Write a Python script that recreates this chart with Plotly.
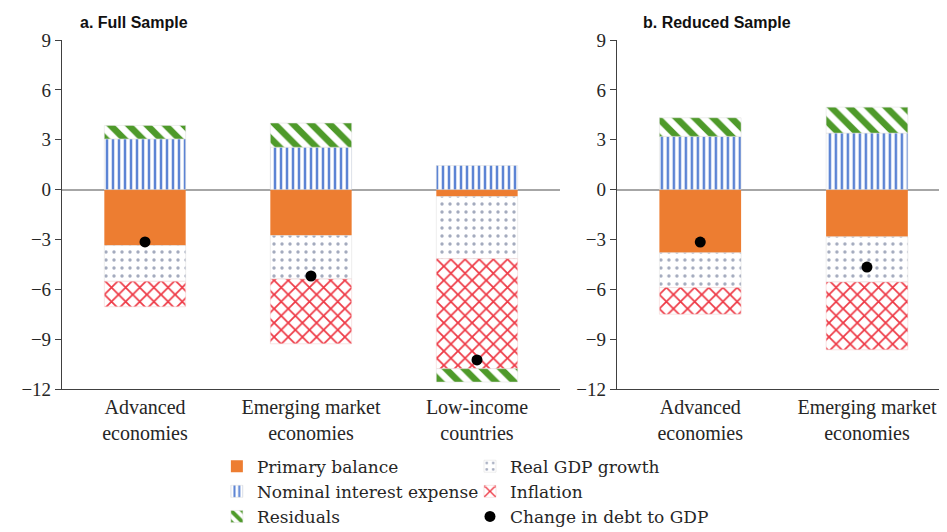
import plotly.graph_objects as go

# categories
cats_full = ["Advanced<br>economies", "Emerging market<br>economies", "Low-income<br>countries"]
cats_reduced = ["Advanced<br>economies", "Emerging market<br>economies"]

# a. Full Sample
full_primary = [-3.37, -2.77, -0.42]
full_interest = [3.05, 2.55, 1.45]
full_gdp = [-2.15, -2.61, -3.74]
full_inflation = [-1.53, -3.9, -6.62]
full_resid = [0.81, 1.45, -0.8]
full_change = [-3.15, -5.2, -10.25]

# b. Reduced Sample
red_primary = [-3.8, -2.84]
red_interest = [3.2, 3.4]
red_gdp = [-2.1, -2.72]
red_inflation = [-1.6, -4.08]
red_resid = [1.12, 1.56]
red_change = [-3.16, -4.66]

yticks = [-12, -9, -6, -3, 0, 3, 6, 9]
yticklabels = ["\u221212", "\u22129", "\u22126", "\u22123", "0", "3", "6", "9"]

ORANGE = "#ED7D31"
BLUE = "#5C84D4"
GREEN = "#4E9A2A"
DOTS = "#A4ABBE"
RED = "#EE3A46"
SERIF = "Liberation Serif, Times New Roman, serif"
LEGEND_FONT = "DejaVu Serif, serif"
SANS = "Liberation Sans, Arial, sans-serif"

styles = {
    "Primary balance": dict(color=ORANGE, line=dict(width=0)),
    "Nominal interest expense": dict(
        color="white", line=dict(width=0.5, color="#dcdcdc"),
        pattern=dict(shape="|", fgcolor=BLUE, bgcolor="white", fgopacity=1, size=6, solidity=0.42)),
    "Real GDP growth": dict(
        color="white", line=dict(width=0.5, color="#dcdcdc"),
        pattern=dict(shape=".", fgcolor=DOTS, bgcolor="white", fgopacity=1, size=8, solidity=0.14)),
    "Inflation": dict(
        color="white", line=dict(width=0.5, color="#f0c8c8"),
        pattern=dict(shape="x", fgcolor=RED, bgcolor="white", fgopacity=1, size=10, solidity=0.32)),
    "Residuals": dict(
        color="white", line=dict(width=0.5, color="#dcdcdc"),
        pattern=dict(shape="\\", fgcolor=GREEN, bgcolor="white", fgopacity=1, size=13, solidity=0.5)),
}
# which of the two legend columns each series goes in
legend_col = {"Primary balance": "legend", "Nominal interest expense": "legend",
              "Residuals": "legend", "Real GDP growth": "legend2",
              "Inflation": "legend2", "Change in debt to GDP": "legend2"}
ranks = {"Primary balance": 1, "Nominal interest expense": 2, "Residuals": 3,
         "Real GDP growth": 1, "Inflation": 2, "Change in debt to GDP": 3}

fig = go.Figure()

panels = [
    ("x", "y", cats_full, [full_primary, full_interest, full_gdp, full_inflation, full_resid], full_change, True),
    ("x2", "y2", cats_reduced, [red_primary, red_interest, red_gdp, red_inflation, red_resid], red_change, False),
]
names = ["Primary balance", "Nominal interest expense", "Real GDP growth", "Inflation", "Residuals"]

for xa, ya, cats, series, change, show in panels:
    for name, vals in zip(names, series):
        fig.add_trace(go.Bar(
            x=cats, y=vals, name=name, marker=styles[name], width=0.49,
            xaxis=xa, yaxis=ya, legendgroup=name, showlegend=show,
            legend=legend_col[name], legendrank=ranks[name],
        ))
    fig.add_trace(go.Scatter(
        x=cats, y=change, mode="markers", name="Change in debt to GDP",
        marker=dict(color="black", size=11), xaxis=xa, yaxis=ya,
        legendgroup="change", showlegend=show,
        legend="legend2", legendrank=3,
    ))

axis_common = dict(
    showgrid=False, showline=True, linecolor="#404040", linewidth=1.2,
    automargin=False,
)
xaxis_common = dict(
    ticks="", ticklabelstandoff=0,
    tickfont=dict(family=SERIF, size=20, color="#262626"),
)
yaxis_common = dict(
    range=[-12, 9], tickvals=yticks, ticktext=yticklabels,
    ticks="outside", ticklen=6, tickcolor="#404040",
    zeroline=True, zerolinecolor="#A6A6A6", zerolinewidth=1.5,
    tickfont=dict(family=SERIF, size=19, color="#262626"),
)
legend_common = dict(
    orientation="v", y=-0.171, yanchor="top", xanchor="left",
    font=dict(family=LEGEND_FONT, size=17, color="#262626"),
    itemwidth=30, tracegroupgap=0, bgcolor="rgba(0,0,0,0)",
)
# the page body adds an 8px margin, so the figure is 8px smaller than the window
fig.update_layout(
    barmode="relative",
    width=939, height=524,
    paper_bgcolor="white", plot_bgcolor="white",
    margin=dict(l=54, r=0, t=32, b=143, autoexpand=False),
    xaxis=dict(domain=[0, 0.5627], range=[-0.5, 2.5], **xaxis_common, **axis_common),
    xaxis2=dict(domain=[0.627, 1.0], range=[-0.5, 1.48], **xaxis_common, **axis_common),
    yaxis=dict(anchor="x", **yaxis_common, **axis_common),
    yaxis2=dict(anchor="x2", **yaxis_common, **axis_common),
    legend=dict(x=0.175, **legend_common),
    legend2=dict(x=0.461, **legend_common),
    showlegend=True,
    annotations=[
        dict(text="<b>a. Full Sample</b>", xref="paper", yref="paper",
             x=0.018, y=1.02, xanchor="left", yanchor="bottom", showarrow=False,
             font=dict(family=SANS, size=16, color="#111111")),
        dict(text="<b>b. Reduced Sample</b>", xref="paper", yref="paper",
             x=0.654, y=1.02, xanchor="left", yanchor="bottom", showarrow=False,
             font=dict(family=SANS, size=16, color="#111111")),
    ],
)

fig.write_html("out.html")
